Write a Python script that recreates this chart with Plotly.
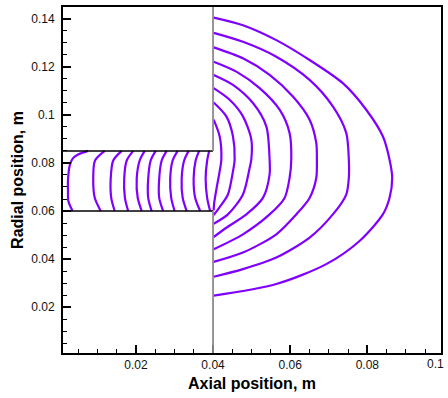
import plotly.graph_objects as go

# Geometry of the walls (m)
wall_x = 0.04
channel_bottom = 0.06
channel_top = 0.085

x_range = [0.0011, 0.0991]
y_range = [0.001, 0.1448]

x_tickvals = [0.02, 0.04, 0.06, 0.08]
x_ticktext = ["0.02", "0.04", "0.06", "0.08"]
x_edge_label = "0.1"
y_tickvals = [0.02, 0.04, 0.06, 0.08, 0.1, 0.12, 0.14]
y_ticktext = ["0.02", "0.04", "0.06", "0.08", "0.1", "0.12", "0.14"]

# Contour lines inside the channel (x, y in m)
ch_y = [0.085, 0.081, 0.0735, 0.0655, 0.060]
l1_x = [0.0076, 0.0050, 0.0037, 0.0029, 0.0024, 0.0024, 0.0025, 0.0036]
l1_y = [0.085, 0.0835, 0.0820, 0.0793, 0.0730, 0.0682, 0.0641, 0.0600]
l2_x = [0.01192, 0.0094, 0.00894, 0.00933, 0.01088]
l3_x = [0.01632, 0.01412, 0.01347, 0.0136, 0.01451]
l4_x = [0.0193, 0.01762, 0.01697, 0.01715, 0.018]
l5_x = [0.02228, 0.02098, 0.02021, 0.02047, 0.0215]
l6_x = [0.02513, 0.02383, 0.02319, 0.02319, 0.02409]
l7_x = [0.02798, 0.02668, 0.02604, 0.02604, 0.02707]
l8_x = [0.03083, 0.02953, 0.02889, 0.02915, 0.03005]
l9_x = [0.03368, 0.03251, 0.03187, 0.03212, 0.03316]
l10_x = [0.0364, 0.03549, 0.03497, 0.03536, 0.03666]
l11_x = [0.03899, 0.03847, 0.03808, 0.03847, 0.03925]

# Contour arcs outside the channel exit (x, y in m)
a1_x = [0.04016, 0.04775, 0.0564, 0.06503, 0.07365, 0.07971, 0.08402, 0.08575, 0.08645,
        0.08575, 0.08402, 0.07798, 0.06935, 0.0564, 0.04016]
a1_y = [0.14041, 0.13723, 0.13103, 0.12277, 0.11314, 0.10211, 0.09107, 0.08145, 0.07372,
        0.06545, 0.0586, 0.04756, 0.03793, 0.02967, 0.02483]
a2_x = [0.04016, 0.04775, 0.0564, 0.06503, 0.07106, 0.07453, 0.0752, 0.0752, 0.07453,
        0.07106, 0.06503, 0.0564, 0.04775, 0.04016]
a2_y = [0.13405, 0.13033, 0.12413, 0.1145, 0.10347, 0.09248, 0.08145, 0.07372, 0.06686,
        0.0586, 0.04893, 0.04066, 0.03587, 0.03269]
a3_x = [0.04016, 0.04775, 0.05466, 0.0607, 0.06503, 0.06676, 0.06692, 0.06676, 0.06503,
        0.06158, 0.0564, 0.04775, 0.04016]
a3_y = [0.12802, 0.12347, 0.11657, 0.1076, 0.09798, 0.08835, 0.08145, 0.07372, 0.06545,
        0.0586, 0.05033, 0.04273, 0.03888]
a4_x = [0.04016, 0.04604, 0.05207, 0.05725, 0.05984, 0.06028, 0.05984, 0.05855, 0.05466,
        0.04775, 0.04016]
a4_y = [0.12207, 0.11793, 0.11107, 0.10211, 0.09248, 0.08145, 0.07372, 0.06545, 0.0586,
        0.05033, 0.04413]
a5_x = [0.04016, 0.04516, 0.05034, 0.05381, 0.05466, 0.05466, 0.05293, 0.04863, 0.04345, 0.04016]
a5_y = [0.11657, 0.11244, 0.10488, 0.09521, 0.08145, 0.07512, 0.06545, 0.0586, 0.05306, 0.04921]
a6_x = [0.04016, 0.0443, 0.04775, 0.04992, 0.04992, 0.04948, 0.04775, 0.04386, 0.04016]
a6_y = [0.11107, 0.10624, 0.09934, 0.08971, 0.08145, 0.07785, 0.06686, 0.0586, 0.05471]
a7_x = [0.04016, 0.04345, 0.04516, 0.0456, 0.04516, 0.04386, 0.04171, 0.04016]
a7_y = [0.10512, 0.09934, 0.09107, 0.08145, 0.07649, 0.06686, 0.06161, 0.0583]
a8_x = [0.04016, 0.04171, 0.04215, 0.04171, 0.04093, 0.04029, 0.04016]
a8_y = [0.09798, 0.09107, 0.08145, 0.07649, 0.06959, 0.06326, 0.06025]

LINE_COLOR = "#8000FF"
FONT = "Liberation Sans, Arial, Helvetica, sans-serif"
TICK_FONT = dict(family=FONT, size=12, color="#111111")

lines = [(l1_x, l1_y)]
for lx in [l2_x, l3_x, l4_x, l5_x, l6_x, l7_x, l8_x, l9_x, l10_x, l11_x]:
    lines.append((lx, ch_y))
for ax_, ay_ in [(a1_x, a1_y), (a2_x, a2_y), (a3_x, a3_y), (a4_x, a4_y),
                 (a5_x, a5_y), (a6_x, a6_y), (a7_x, a7_y), (a8_x, a8_y)]:
    lines.append((ax_, ay_))

fig = go.Figure()
for lx, ly in lines:
    fig.add_trace(go.Scatter(
        x=lx, y=ly, mode="lines",
        line=dict(color=LINE_COLOR, width=2.2, shape="spline", smoothing=0.8),
        showlegend=False, hoverinfo="skip"))

# Wall outlines
x0 = x_range[0]
y0 = y_range[0]
y1 = y_range[1]
shapes = [
    dict(type="line", x0=x0, x1=wall_x, y0=channel_top, y1=channel_top,
         line=dict(color="black", width=1.5)),
    dict(type="line", x0=x0, x1=wall_x, y0=channel_bottom, y1=channel_bottom,
         line=dict(color="black", width=1.5)),
    dict(type="line", x0=wall_x, x1=wall_x, y0=channel_top, y1=y1,
         line=dict(color="#8c8c8c", width=1.8)),
    dict(type="line", x0=wall_x, x1=wall_x, y0=y0, y1=channel_bottom,
         line=dict(color="#8c8c8c", width=1.8)),
]

axis_common = dict(
    showline=True, linecolor="black", linewidth=2, mirror=True,
    ticks="inside", ticklen=8, tickwidth=1.5, tickcolor="black",
    showgrid=False, zeroline=False,
    tickfont=TICK_FONT,
    minor=dict(ticks="inside", ticklen=4, tickwidth=1, tickcolor="black", dtick=0.005, showgrid=False),
)

edge_pos = (0.1 - x_range[0]) / (x_range[1] - x_range[0])

fig.update_layout(
    width=448, height=398,
    margin=dict(l=63, r=6, t=5, b=45),
    plot_bgcolor="white", paper_bgcolor="white",
    shapes=shapes,
    xaxis=dict(range=x_range, tickmode="array", tickvals=x_tickvals, ticktext=x_ticktext,
               title=dict(text="<b>Axial position, m</b>", font=dict(family=FONT, size=16, color="black"), standoff=6),
               **axis_common),
    yaxis=dict(range=y_range, tickmode="array", tickvals=y_tickvals, ticktext=y_ticktext,
               ticklabelstandoff=4,
               title=dict(text="<b>Radial position, m</b>", font=dict(family=FONT, size=16, color="black"), standoff=4),
               **axis_common),
    annotations=[dict(text=x_edge_label, x=1.0, xref="paper", xshift=5, y=0, yref="paper", yanchor="top",
                      xanchor="right", yshift=-2, showarrow=False, font=TICK_FONT)],
)

fig.write_html("out.html")
